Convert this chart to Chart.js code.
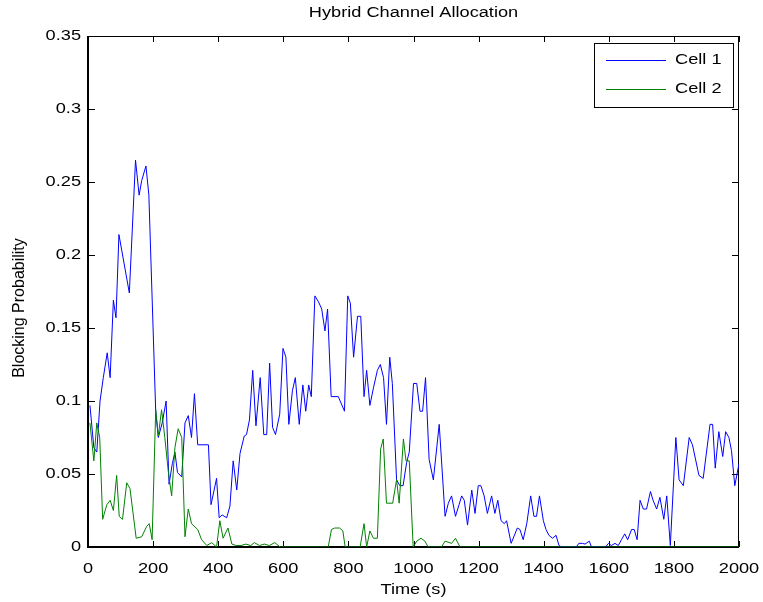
<!DOCTYPE html>
<html>
<head>
<meta charset="utf-8">
<title>Hybrid Channel Allocation</title>
<script src="https://cdn.jsdelivr.net/npm/chart.js@4.4.1/dist/chart.umd.min.js"></script>
<style>
html,body{margin:0;padding:0;background:#fff;}
#wrap{width:763px;height:602px;}
</style>
</head>
<body>
<div id="wrap"><canvas id="grafica" width="763" height="602"></canvas></div>
<script>
/* =====================================
   DATOS
===================================== */

const cell1Time = [
  6, 18, 27, 37, 47, 59, 68, 78, 86, 95, 127, 146, 157, 165, 178, 187,
  208, 216, 228, 240, 249, 259, 267, 275, 288, 298, 308, 318, 327, 337, 370, 378,
  395, 403, 412, 426, 436, 446, 457, 467, 480, 487, 496, 506, 516, 529, 540, 549,
  558, 567, 576, 589, 599, 608, 617, 628, 637, 649, 660, 669, 678, 686, 697, 708,
  718, 728, 736, 747, 769, 788, 798, 806, 816, 828, 838, 848, 856, 866, 877, 889,
  898, 908, 917, 927, 935, 948, 958, 968, 979, 987, 1000, 1010, 1020, 1028, 1037, 1048,
  1061, 1079, 1097, 1107, 1117, 1129, 1140, 1148, 1156, 1166, 1179, 1189, 1199, 1207, 1217, 1227,
  1240, 1250, 1259, 1269, 1279, 1286, 1300, 1319, 1327, 1337, 1348, 1360, 1370, 1378, 1387, 1399,
  1407, 1416, 1427, 1438, 1447, 1455, 1500, 1508, 1519, 1527, 1540, 1547, 1590, 1599, 1608, 1619,
  1629, 1639, 1649, 1658, 1670, 1678, 1687, 1696, 1706, 1716, 1728, 1736, 1747, 1757, 1769, 1778,
  1789, 1806, 1816, 1829, 1847, 1857, 1877, 1890, 1911, 1919, 1927, 1938, 1950, 1959, 1969, 1977,
  1987, 2000
];

const cell1Prob = [
  0.097, 0.068, 0.065, 0.100, 0.116, 0.133, 0.116, 0.169, 0.157, 0.214, 0.174, 0.265, 0.241, 0.251, 0.261, 0.241,
  0.093, 0.075, 0.085, 0.100, 0.043, 0.057, 0.065, 0.051, 0.048, 0.085, 0.090, 0.075, 0.105, 0.070, 0.070, 0.029,
  0.047, 0.020, 0.022, 0.020, 0.028, 0.059, 0.039, 0.064, 0.076, 0.077, 0.087, 0.121, 0.083, 0.116, 0.077, 0.077,
  0.126, 0.082, 0.077, 0.091, 0.136, 0.130, 0.084, 0.107, 0.116, 0.084, 0.111, 0.093, 0.111, 0.103, 0.172, 0.168,
  0.163, 0.148, 0.163, 0.103, 0.103, 0.093, 0.172, 0.167, 0.130, 0.158, 0.158, 0.103, 0.121, 0.097, 0.109, 0.121,
  0.125, 0.116, 0.084, 0.130, 0.112, 0.046, 0.042, 0.042, 0.058, 0.065, 0.112, 0.112, 0.093, 0.093, 0.116, 0.060,
  0.046, 0.084, 0.021, 0.030, 0.035, 0.021, 0.029, 0.035, 0.032, 0.015, 0.039, 0.023, 0.042, 0.042, 0.035, 0.023,
  0.035, 0.023, 0.032, 0.018, 0.016, 0.018, 0.0025, 0.013, 0.012, 0.005, 0.016, 0.035, 0.021, 0.021, 0.035, 0.018,
  0.012, 0.008, 0.006, 0.008, 0.001, 0, 0, 0.0025, 0.0025, 0.002, 0.004, 0, 0, 0.0025, 0.001, 0.0025,
  0.001, 0.005, 0.009, 0.005, 0.012, 0.012, 0.005, 0.032, 0.026, 0.026, 0.038, 0.032, 0.026, 0.034, 0.019, 0.035,
  0.001, 0.075, 0.046, 0.042, 0.075, 0.070, 0.049, 0.047, 0.084, 0.084, 0.054, 0.079, 0.062, 0.079, 0.075, 0.066,
  0.042, 0.057
];

const cell2Time = [
  6, 18, 27, 36, 45, 58, 68, 78, 88, 96, 106, 119, 129, 148, 165, 180,
  188, 197, 208, 216, 226, 236, 247, 257, 267, 277, 288, 298, 308, 318, 337, 349,
  365, 380, 395, 405, 415, 430, 442, 455, 470, 485, 500, 511, 527, 542, 557, 574,
  590, 738, 748, 758, 773, 783, 790, 836, 848, 856, 866, 877, 889, 899, 907, 917,
  936, 948, 956, 969, 977, 987, 999, 1010, 1023, 1035, 1045, 1086, 1097, 1117, 1129, 1143,
  2000
];

const cell2Prob = [
  0.085, 0.059, 0.085, 0.075, 0.019, 0.029, 0.032, 0.025, 0.049, 0.021, 0.019, 0.044, 0.040, 0.006, 0.007, 0.014,
  0.016, 0.005, 0.094, 0.076, 0.094, 0.075, 0.051, 0.035, 0.068, 0.081, 0.075, 0.007, 0.026, 0.016, 0.012, 0.005,
  0.001, 0.003, 0, 0.018, 0.006, 0.013, 0.002, 0.001, 0.001, 0.002, 0.001, 0.003, 0.001, 0.002, 0.001, 0.003,
  0, 0, 0.012, 0.013, 0.013, 0.011, 0, 0, 0.016, 0, 0.011, 0.006, 0.006, 0.067, 0.074, 0.030,
  0.030, 0.046, 0.030, 0.074, 0.059, 0.059, 0, 0.004, 0.006, 0.004, 0, 0, 0.004, 0.0025, 0.006, 0,
  0
];

const xTicks = [0, 200, 400, 600, 800, 1000, 1200, 1400, 1600, 1800, 2000];
const yTicks = [0, 0.05, 0.1, 0.15, 0.2, 0.25, 0.3, 0.35];

const tituloY = "Blocking Probability";

const fuente = "'Liberation Sans', Arial, Helvetica, sans-serif";

function puntos(tiempos, valores){
  return tiempos.map((t, i) => ({ x: t, y: valores[i] }));
}

/* =====================================
   TEXTO ANCHO (estilo figura)
===================================== */

const textoAncho = {
  id: "textoAncho",
  beforeDraw(chart){
    const ctx = chart.ctx;
    if(ctx._ancho) return;
    const original = ctx.fillText;
    ctx.fillText = function(txt, x, y, maxW){
      const m = this.getTransform();
      if(m.b !== 0 || m.c !== 0){
        return original.call(this, txt, x, y, maxW);
      }
      this.save();
      this.translate(x, y);
      this.scale(1.3, 1);
      original.call(this, txt, 0, 0, maxW);
      this.restore();
    };
    ctx._ancho = true;
  }
};

/* =====================================
   MARCO Y TICKS HACIA DENTRO
===================================== */

const marco = {
  id: "marco",
  beforeDatasetsDraw(chart){
    const ctx = chart.ctx;
    const { left, right, top, bottom } = chart.chartArea;
    const sx = chart.scales.x;
    const sy = chart.scales.y;

    ctx.save();
    ctx.strokeStyle = "#000";

    ctx.lineWidth = 1;
    ctx.beginPath();
    ctx.moveTo(left, top + 0.5);
    ctx.lineTo(right, top + 0.5);
    ctx.moveTo(right - 0.5, top);
    ctx.lineTo(right - 0.5, bottom);

    xTicks.forEach(v => {
      const px = Math.round(sx.getPixelForValue(v)) + 0.5;
      ctx.moveTo(px, bottom);
      ctx.lineTo(px, bottom - 6);
      ctx.moveTo(px, top);
      ctx.lineTo(px, top + 6);
    });

    yTicks.forEach(v => {
      const py = Math.round(sy.getPixelForValue(v)) + 0.5;
      ctx.moveTo(left, py);
      ctx.lineTo(left + 7, py);
      ctx.moveTo(right, py);
      ctx.lineTo(right - 7, py);
    });
    ctx.stroke();

    ctx.lineWidth = 2;
    ctx.beginPath();
    ctx.moveTo(left, top);
    ctx.lineTo(left, bottom);
    ctx.lineTo(right, bottom);
    ctx.stroke();

    // etiqueta vertical del eje y
    ctx.translate(20, 308);
    ctx.rotate(-Math.PI / 2);
    ctx.font = "16px " + fuente;
    ctx.fillStyle = "#000";
    ctx.textAlign = "center";
    ctx.textBaseline = "middle";
    ctx.fillText(tituloY, 0, 0);

    ctx.restore();
  }
};

/* =====================================
   LEYENDA DENTRO DEL AREA
===================================== */

const leyenda = {
  id: "leyenda",
  afterDraw(chart){
    const ctx = chart.ctx;
    const caja = { x: 594, y: 43, w: 139, h: 64 };

    ctx.save();
    ctx.fillStyle = "#fff";
    ctx.fillRect(caja.x, caja.y, caja.w, caja.h);
    ctx.strokeStyle = "#000";
    ctx.lineWidth = 1;
    ctx.strokeRect(caja.x + 0.5, caja.y + 0.5, caja.w, caja.h);

    ctx.font = "14px " + fuente;
    ctx.textBaseline = "middle";
    ctx.textAlign = "left";

    chart.data.datasets.forEach((ds, i) => {
      const y = caja.y + 17.5 + i * 29;
      ctx.strokeStyle = ds.borderColor;
      ctx.beginPath();
      ctx.moveTo(caja.x + 12, y);
      ctx.lineTo(caja.x + 72, y);
      ctx.stroke();
      ctx.fillStyle = "#000";
      ctx.fillText(ds.label, caja.x + 81, y);
    });

    ctx.restore();
  }
};

/* =====================================
   GRAFICA
===================================== */

new Chart(document.getElementById("grafica"), {
  type: "line",
  data: {
    datasets: [
      {
        label: "Cell 1",
        data: puntos(cell1Time, cell1Prob),
        borderColor: "#0000ff",
        borderWidth: 1,
        pointRadius: 0,
        tension: 0,
        fill: false,
        order: 1
      },
      {
        label: "Cell 2",
        data: puntos(cell2Time, cell2Prob),
        borderColor: "#008000",
        borderWidth: 1,
        pointRadius: 0,
        tension: 0,
        fill: false,
        order: 0
      }
    ]
  },
  options: {
    responsive: false,
    animation: false,
    events: [],
    layout: {
      autoPadding: false,
      padding: { left: 0, right: 24, top: 0, bottom: 0 }
    },
    plugins: {
      legend: { display: false },
      tooltip: { enabled: false },
      title: {
        display: true,
        text: "Hybrid Channel Allocation",
        fullSize: false,
        color: "#000",
        font: { family: fuente, size: 14, weight: "normal" },
        padding: { top: 5, bottom: 14.2 }
      }
    },
    scales: {
      x: {
        type: "linear",
        min: 0,
        max: 2000,
        afterFit(s){
          s.height = 55;
          s.paddingLeft = 0;
          s.paddingRight = 0;
        },
        afterBuildTicks(s){ s.ticks = xTicks.map(v => ({ value: v })); },
        grid: { display: false, drawTicks: false },
        border: { display: false },
        ticks: {
          color: "#000",
          padding: 14,
          maxRotation: 0,
          font: { family: fuente, size: 14 },
          callback: v => String(v)
        },
        title: {
          display: true,
          text: "Time (s)",
          color: "#000",
          font: { family: fuente, size: 14 },
          padding: { top: 3, bottom: 3 }
        }
      },
      y: {
        min: 0,
        max: 0.35,
        afterFit(s){
          s.width = 88;
          s.paddingTop = 0;
          s.paddingBottom = 0;
        },
        afterBuildTicks(s){ s.ticks = yTicks.map(v => ({ value: v })); },
        grid: { display: false, drawTicks: false },
        border: { display: false },
        ticks: {
          color: "#000",
          padding: 7,
          font: { family: fuente, size: 14 },
          callback: v => String(v)
        }
      }
    }
  },
  plugins: [textoAncho, marco, leyenda]
});
</script>
</body>
</html>
